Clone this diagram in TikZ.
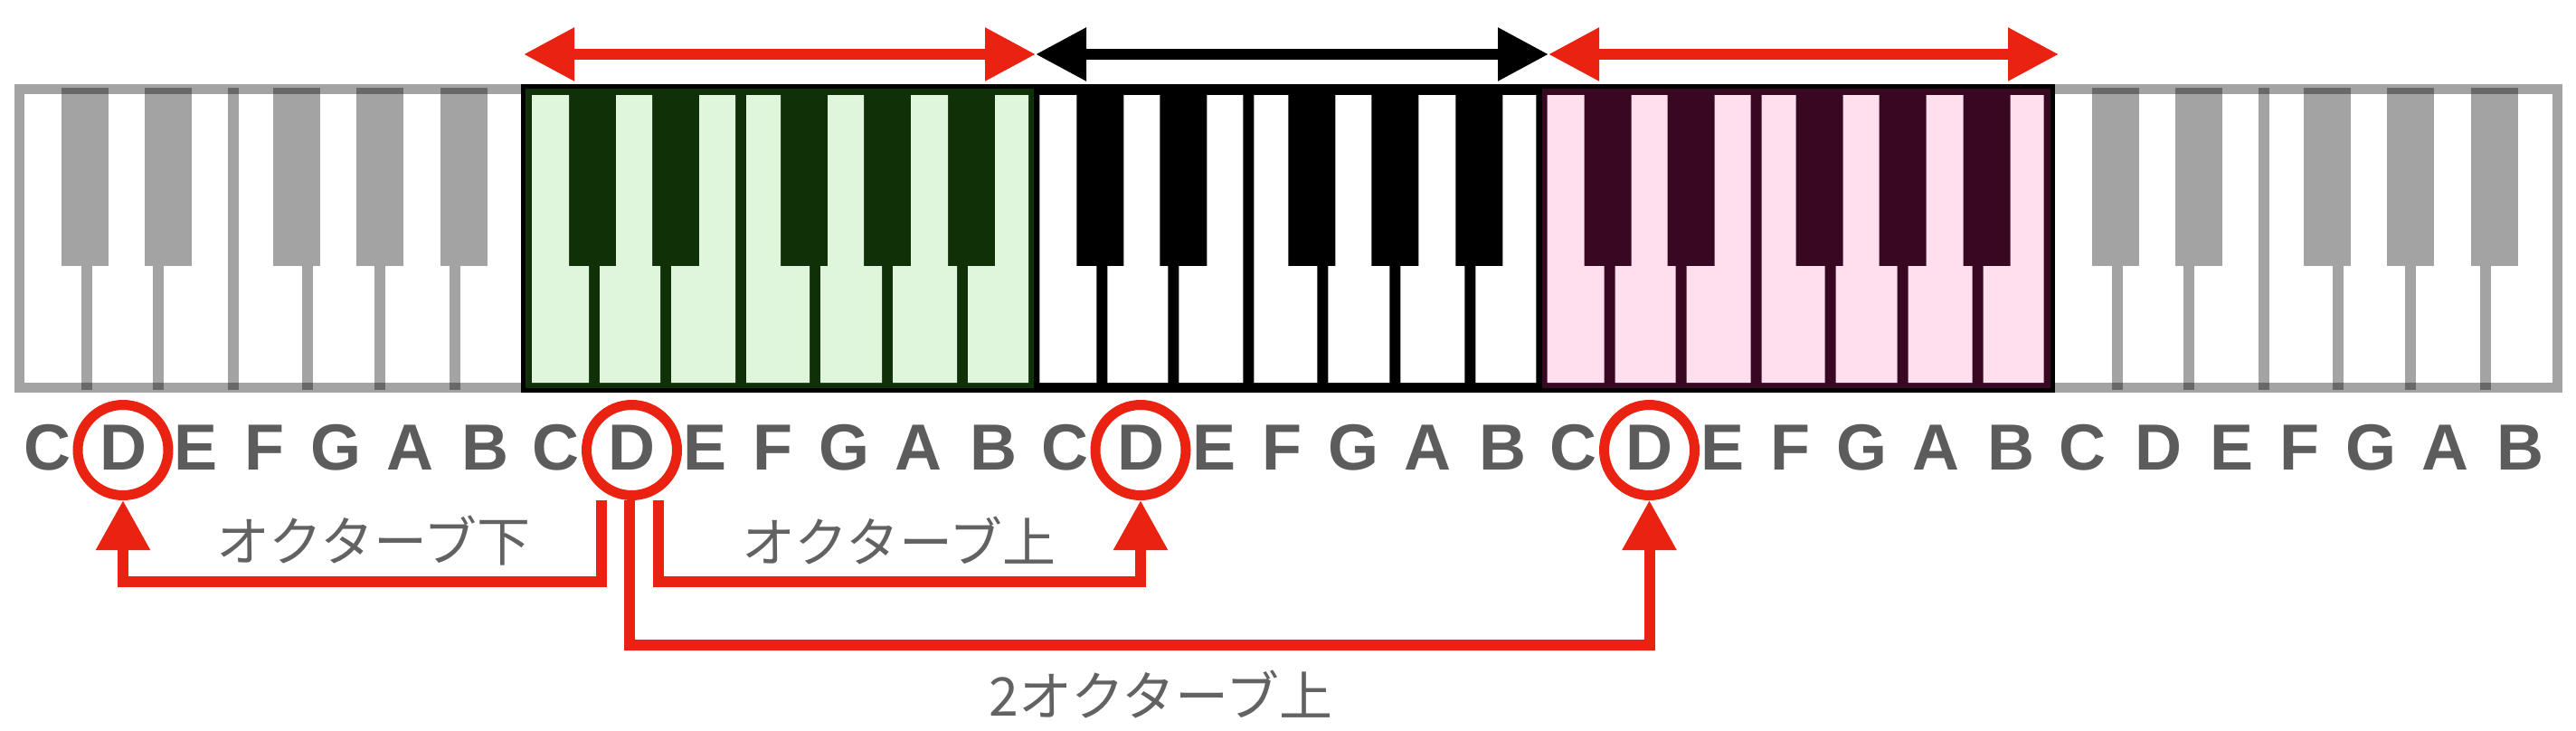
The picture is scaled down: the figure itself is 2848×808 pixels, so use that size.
\documentclass[tikz,border=0pt]{standalone}
\usepackage{fontspec}
\setmainfont{Liberation Sans}
\newfontfamily\jpfont{Noto Sans CJK JP}
\usetikzlibrary{arrows.meta}
\definecolor{keyred}{RGB}{233,34,18}
\definecolor{notegray}{RGB}{92,92,92}
\definecolor{jpgray}{RGB}{98,98,98}
\definecolor{darkgreen}{RGB}{16,48,8}
\definecolor{palegreen}{RGB}{224,246,220}
\definecolor{darkplum}{RGB}{56,8,34}
\definecolor{palepink}{RGB}{255,222,238}

\begin{document}
\begin{tikzpicture}[x=1pt,y=-1pt,
  grayface/.style={black,opacity=0.36},
  notename/.style={font=\fontsize{72}{72}\selectfont\bfseries,text=notegray,anchor=base,inner sep=0pt},
  ring/.style={circle,draw=keyred,line width=11pt,minimum size=100pt,inner sep=0pt},
  link/.style={keyred,line width=12pt,line join=miter,-{Triangle[length=55pt,width=57pt]}},
  rangearrow/.style={line width=12pt,{Triangle[length=56pt,width=56pt]}-{Triangle[length=56pt,width=56pt]}},
  jptext/.style={font=\jpfont\fontsize{59}{59}\selectfont,text=jpgray,inner sep=0pt}]
\useasboundingbox (0,0) rectangle (2848,808);
\draw[grayface,line width=11pt] (21,98.5) rectangle (2827,428.5);
\foreach \k in {0,4}{
  \pgfmathsetmacro\ox{21+561.2*\k}
  \foreach \bl in {47,139,281,373,466}
    \fill[grayface] (\ox+\bl,97) rectangle (\ox+\bl+52,294);
  \foreach \sp in {75,154,319,399,482}
    \draw[grayface,line width=12pt] (\ox+\sp,294) -- (\ox+\sp,431);
  \draw[grayface,line width=12pt] (\ox+237,97) -- (\ox+237,431);
}
\foreach \k/\dk/\lt/\el/\er in {1/darkgreen/palegreen/6/0,2/black/white/0/0,3/darkplum/palepink/0/6}{
  \pgfmathsetmacro\ox{21+561.2*\k}
  \fill[\dk] (\ox-\el,93) rectangle (\ox+561.2+\er,434);
  \foreach \ta/\tb/\ba/\bb in {6/47/6/69,99/139/81/148,191/231/160/231,243/281/243/313,333/373/325/393,425/466/405/476,518/555/488/555}
    \fill[\lt] (\ox+\ta,105) -- (\ox+\tb,105) -- (\ox+\tb,294) -- (\ox+\bb,294)
      -- (\ox+\bb,423) -- (\ox+\ba,423) -- (\ox+\ba,294) -- (\ox+\ta,294) -- cycle;
}
\draw[line width=5pt] (578.7,95.5) rectangle (2269.3,431.5);

\coordinate (edge-0) at (579,60);
\coordinate (edge-1) at (1145,60);
\coordinate (edge-2) at (1712,60);
\coordinate (edge-3) at (2276,60);
\draw[rangearrow,keyred] (edge-0) -- (edge-1);
\draw[rangearrow,black] (edge-1) -- (edge-2);
\draw[rangearrow,keyred] (edge-2) -- (edge-3);

\foreach \k in {0,...,4}
  \foreach \nm/\off in {C/31,D/115,E/196,F/271,G/350,A/432,B/515}
    \node[notename] (note-\k-\nm) at (21+562.5*\k+\off,519) {\nm};
\foreach \k in {0,...,3}
  \node[ring] (ring-\k) at ([yshift=21.5pt]note-\k-D.base) {};

\draw[link] ([xshift=-34pt]ring-1.south) -- ++(0,89.5) -| (ring-0.south);
\draw[link] ([xshift=29pt]ring-1.south) -- ++(0,89.5) -| (ring-2.south);
\draw[link] ([xshift=-3pt]ring-1.south) -- ++(0,159.5) -| (ring-3.south);

\node[jptext] (down-one) at (413,597.5) {オクターブ下};
\node[jptext] (up-one) at (994,597.5) {オクターブ上};
\node[jptext] (up-two) at (1283.5,768) {2オクターブ上};
\end{tikzpicture}
\end{document}
